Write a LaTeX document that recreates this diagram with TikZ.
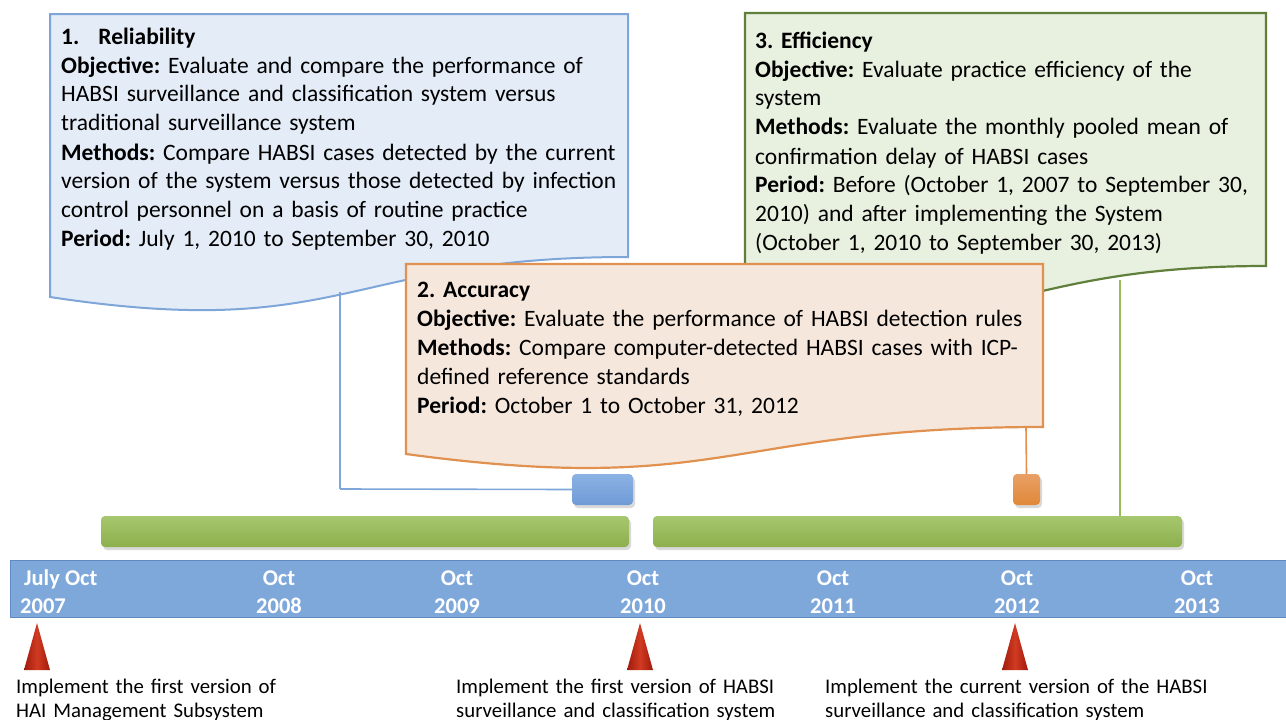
\documentclass[tikz,border=0pt]{standalone}
\usepackage{fontspec}
\setmainfont{Carlito}
\usetikzlibrary{calc}
\definecolor{bfill}{HTML}{E4ECF7}
\definecolor{bline}{HTML}{7EA6D8}
\definecolor{ofill}{HTML}{F6E7DD}
\definecolor{oline}{HTML}{E0904F}
\definecolor{gfill}{HTML}{E8F0DF}
\definecolor{gline}{HTML}{5F7F3B}
\definecolor{bargl}{HTML}{A7C76E}
\definecolor{bargd}{HTML}{8DAF4C}
\definecolor{band}{HTML}{7FA8DA}
\definecolor{bandline}{HTML}{5F8BC2}
\definecolor{sblue}{HTML}{6F9BD6}
\definecolor{sbluel}{HTML}{8CB2E4}
\definecolor{sor}{HTML}{E08838}
\definecolor{sorl}{HTML}{E9A066}
\definecolor{tred}{HTML}{A01B0C}
\definecolor{tredl}{HTML}{D03A22}
\definecolor{gconn}{HTML}{9BBB59}
\begin{document}
\frenchspacing
\begin{tikzpicture}[x=1pt,y=-1pt,
  boxtxt/.style={inner sep=0pt, anchor=base west, text width=640pt, align=left,
    font=\frenchspacing\fontsize{23.5}{29}\selectfont},
  bottxt/.style={inner sep=0pt, anchor=base west, text width=420pt, align=left,
    font=\frenchspacing\fontsize{20.8}{24}\selectfont},
  yrlbl/.style={inner sep=0pt, anchor=base, align=center, text=white,
    font=\bfseries\fontsize{22.5}{28}\selectfont},
  bar/.style={rounded corners=4pt, top color=bargl, bottom color=bargd, draw=none},
  shadowbox/.style={rounded corners=4pt, fill=black!15, draw=none},
  tri/.style={left color=tred, right color=tred, middle color=tredl, draw=none}
]
\useasboundingbox (0,0) rectangle (1286,720);

% ---- document-shaped boxes ----
\draw[draw=gline, fill=gfill, line width=2.2pt]
  (745,13) -- (1266,13) -- (1266,266) .. controls (1000,266) and (1000,345) .. (745,306) -- cycle;
\draw[draw=bline, fill=bfill, line width=2pt]
  (50,14) -- (628,14) -- (628,257) .. controls (345,257) and (345,342) .. (50,297) -- cycle;

% connector anchor points under the boxes
\coordinate (b1bot) at (340,292);
\coordinate (b1corner) at (340,489);
\coordinate (g3bot) at (1120,280);

% green timeline bars (with shadows)
\fill[shadowbox] (103,519) rectangle (631,550);
\fill[shadowbox] (655,519) rectangle (1184,550);
\shade[bar] (101,516) rectangle (629,547);
\shade[bar] (653,516) rectangle (1182,547);
\node[inner sep=0pt, minimum width=528pt, minimum height=31pt] (bar1) at (365,531.5) {};
\node[inner sep=0pt, minimum width=529pt, minimum height=31pt] (bar2) at (917.5,531.5) {};
\coordinate (bar2top) at (1120,516);

% connectors
\draw[bline, line width=1.6pt] (b1bot) -- (b1corner);
\draw[gconn, line width=1.4pt] (g3bot) -- (bar2top);

% small blue marker
\fill[shadowbox] (574,477) rectangle (635,508);
\shade[rounded corners=4pt, top color=sbluel, bottom color=sblue] (572,474) rectangle (633,505);
\node[inner sep=0pt, minimum width=61pt, minimum height=31pt] (sb) at (602.5,489.5) {};
\draw[bline, line width=1.6pt] (b1corner) -- (sb.west);

% orange box on top
\draw[draw=oline, fill=ofill, line width=2.2pt]
  (406,264) -- (1043,264) -- (1043,427) .. controls (725,427) and (725,497) .. (406,454) -- cycle;
\coordinate (o2bot) at (1026,427);

% small orange marker
\fill[shadowbox] (1015,477) rectangle (1042,508);
\shade[rounded corners=4pt, top color=sorl, bottom color=sor] (1013,474) rectangle (1040,505);
\node[inner sep=0pt, minimum width=27pt, minimum height=31pt] (so) at (1026.5,489.5) {};
\draw[oline, line width=1.6pt] (o2bot) -- (so.north);

% box texts
\node[boxtxt] (t1) at (61,44) {\textbf{1.\hspace{19pt}Reliability}\\
\textbf{Objective:} Evaluate and compare the performance of\\
HABSI surveillance and classification system versus\\
traditional surveillance system\\
\textbf{Methods:} Compare HABSI cases detected by the current\\
version of the system versus those detected by infection\\
control personnel on a basis of routine practice\\
\textbf{Period:} July 1, 2010 to September 30, 2010};

\node[boxtxt] (t3) at (755,48) {\textbf{3. Efficiency}\\
\textbf{Objective:} Evaluate practice efficiency of the\\
system\\
\textbf{Methods:} Evaluate the monthly pooled mean of\\
confirmation delay of HABSI cases\\
\textbf{Period:} Before (October 1, 2007 to September 30,\\
2010) and after implementing the System\\
(October 1, 2010 to September 30, 2013)};

\node[boxtxt] (t2) at (417,297) {\textbf{2. Accuracy}\\
\textbf{Objective:} Evaluate the performance of HABSI detection rules\\
\textbf{Methods:} Compare computer-detected HABSI cases with ICP-\\
defined reference standards\\
\textbf{Period:} October 1 to October 31, 2012};

% timeline band
\draw[fill=band, draw=bandline, line width=1pt] (10,560) rectangle (1300,617);
\node[yrlbl, anchor=base west, align=left] (y07) at (20,613) {\hspace{4pt}July Oct\\2007};
\node[yrlbl] (y08) at (279,613) {Oct\\2008};
\node[yrlbl] (y09) at (457,613) {Oct\\2009};
\node[yrlbl] (y10) at (643,613) {Oct\\2010};
\node[yrlbl] (y11) at (833,613) {Oct\\2011};
\node[yrlbl] (y12) at (1017,613) {Oct\\2012};
\node[yrlbl] (y13) at (1197,613) {Oct\\2013};

% triangles
\shade[tri] (37,623) -- (50,670) -- (24,670) -- cycle;
\shade[tri] (640,623) -- (653,670) -- (627,670) -- cycle;
\shade[tri] (1015,623) -- (1028,670) -- (1002,670) -- cycle;

% bottom texts
\node[bottxt] (n1) at (16,693) {Implement the first version of\\HAI Management Subsystem};
\node[bottxt] (n2) at (456,693) {Implement the first version of HABSI\\surveillance and classification system};
\node[bottxt] (n3) at (825,693) {Implement the current version of the HABSI\\surveillance and classification system};
\end{tikzpicture}
\end{document}
